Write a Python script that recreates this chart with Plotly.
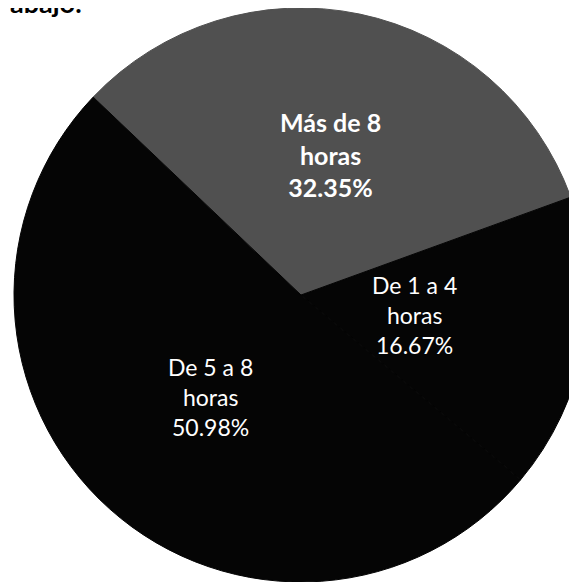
import math
import plotly.graph_objects as go

# slice data
categorias = ["Más de 8 horas", "De 1 a 4 horas", "De 5 a 8 horas"]
porcentajes = [32.35, 16.67, 50.98]
colores = ["#505050", "#050505", "#050505"]
negrita = [True, False, False]

# figure geometry
W, H = 586, 574
ROT = -46.4          # start of first slice, degrees clockwise from 12 o'clock
R_PX = min(W, H) / 2
pos_radial = [0.50, 0.40, 0.475]   # where each label sits along its slice


def etiqueta(nombre, pct, bold):
    txt = nombre.replace(" horas", "<br>horas") + "<br>" + f"{pct:.2f}%"
    return "<b>" + txt.replace("<br>", "</b><br><b>") + "</b>" if bold else txt


fig = go.Figure(go.Pie(
    labels=categorias,
    values=porcentajes,
    textinfo="none",
    marker=dict(colors=colores, line=dict(color=colores, width=1)),
    sort=False,
    direction="clockwise",
    rotation=ROT,
    hoverinfo="label+percent",
    showlegend=False,
))

# slice labels placed along each slice's mid angle
total = sum(porcentajes)
acum = 0
for cat, val, b, f in zip(categorias, porcentajes, negrita, pos_radial):
    mid = math.radians(ROT + (acum + val / 2) / total * 360)
    acum += val
    fig.add_annotation(
        text=etiqueta(cat, val, b), xref="paper", yref="paper",
        x=0.5 + f * R_PX * math.sin(mid) / W,
        y=0.5 + f * R_PX * math.cos(mid) / H,
        xanchor="center", yanchor="middle", showarrow=False,
        font=dict(family="Lato", size=25 if b else 23, color="white"))

fig.add_annotation(text="<b>abajo:</b>", xref="paper", yref="paper",
                   x=0, y=1, xanchor="left", yanchor="top", yshift=24,
                   showarrow=False,
                   font=dict(family="Lato", size=27, color="black"))

fig.update_layout(width=W, height=H,
                  margin=dict(l=0, r=0, t=0, b=0),
                  paper_bgcolor="white", plot_bgcolor="white")

fig.write_html("out.html")
